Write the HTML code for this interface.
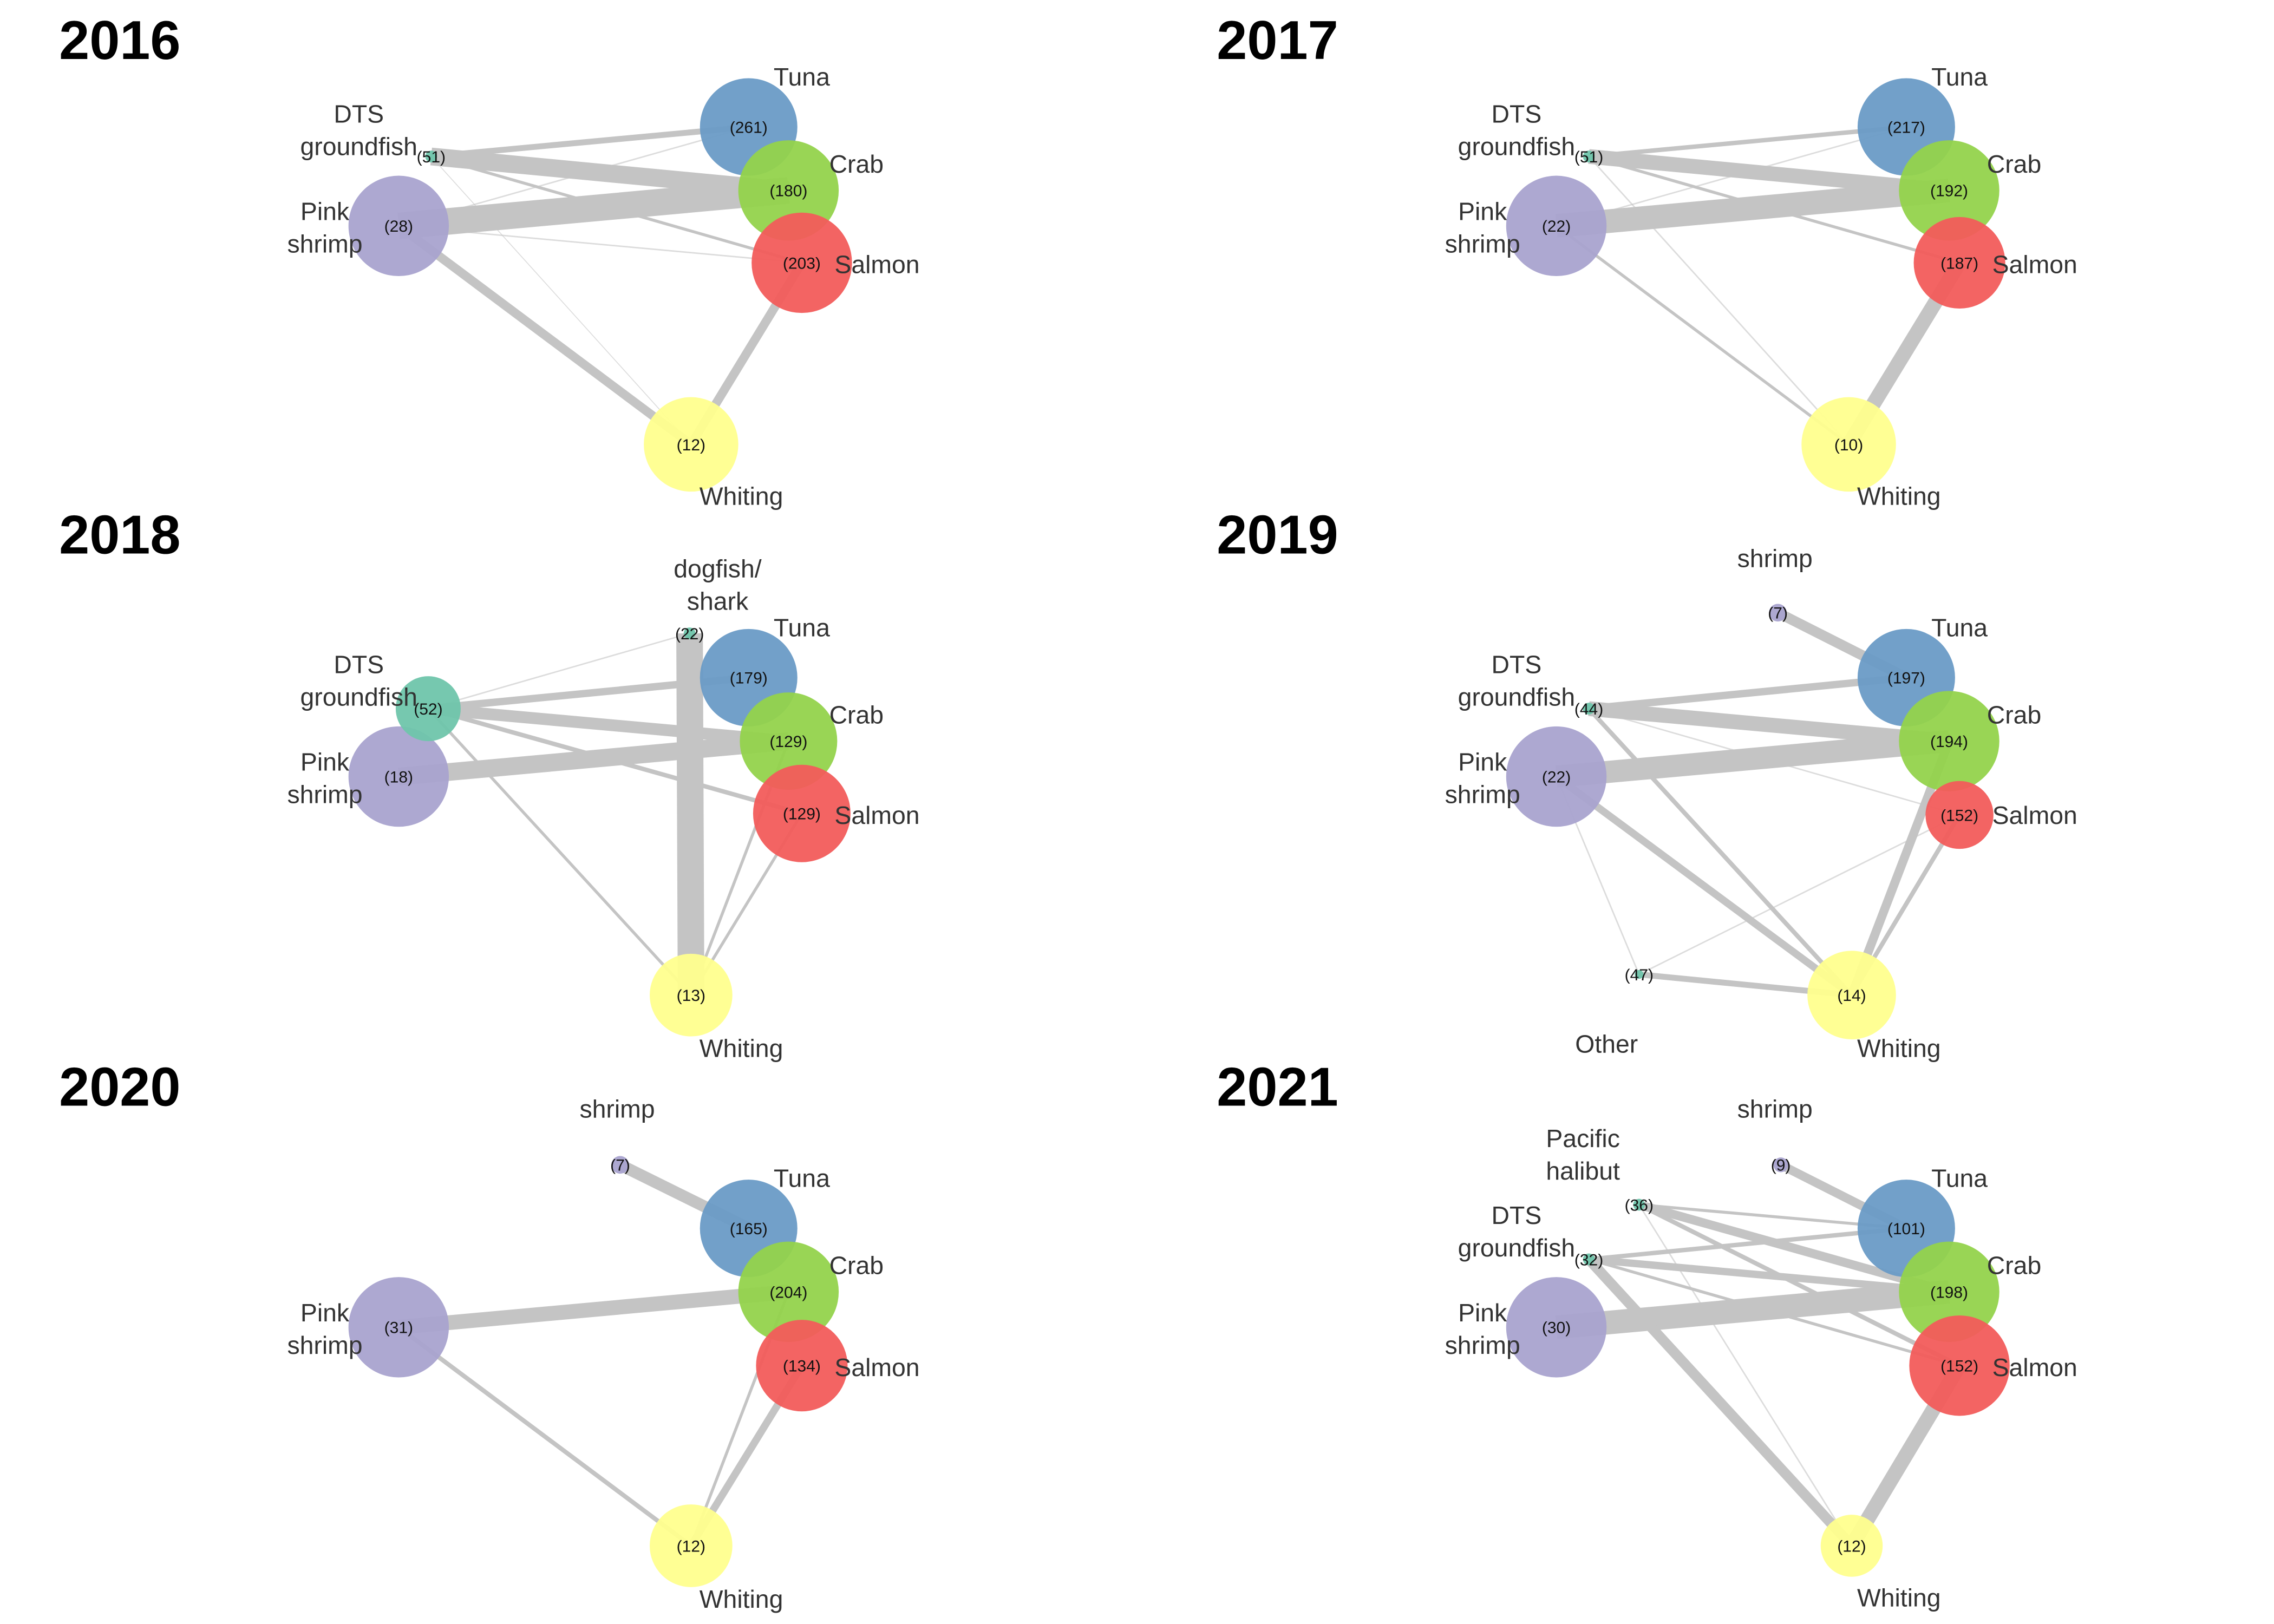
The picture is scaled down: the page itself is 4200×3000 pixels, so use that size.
<!DOCTYPE html>
<html><head><meta charset="utf-8"><style>
html,body{margin:0;padding:0;background:#fff}
svg{display:block}
text{font-family:"Liberation Sans",sans-serif}
</style></head><body>
<svg id="chart" width="4200" height="3000" viewBox="0 0 1540 1100" preserveAspectRatio="none" xmlns="http://www.w3.org/2000/svg"></svg>
<script>
const colors = {Tuna:"#6a9bc6",Crab:"#93d34c",Salmon:"#f25c5b",Pink:"#a9a3cf",Whiting:"#ffff8e",DTS:"#6fc5ab",dog:"#6fc5ab",shrimp:"#a9a3cf",Other:"#6fc5ab",hal:"#6fc5ab"};
const years = ["2016","2017","2018","2019","2020","2021"];
const titlePos = [[40,27],[824,27],[40,362],[824,362],[40,736],[824,736]];
// nodes: key, x, y, radius, count
const nodes2016 = [["Tuna",507,86,33,261],["Crab",534,129,34,180],["Salmon",543,178,34,203],["Pink",270,153,34,28],["Whiting",468,301,32,12],["DTS",292,106,4,51]];
const edges2016 = [["DTS","Crab",12],["Pink","Crab",18],["DTS","Tuna",4],["Pink","Whiting",6],["Salmon","Whiting",6],["DTS","Salmon",2],["Pink","Tuna",1],["Pink","Salmon",1],["DTS","Whiting",0.6]];
const nodes2017 = [["Tuna",1291,86,33,217],["Crab",1320,129,34,192],["Salmon",1327,178,31,187],["Pink",1054,153,34,22],["Whiting",1252,301,32,10],["DTS",1076,106,4,51]];
const edges2017 = [["DTS","Crab",10],["Pink","Crab",16],["DTS","Tuna",3],["Salmon","Whiting",10],["Pink","Whiting",2],["DTS","Salmon",2],["Pink","Tuna",1],["DTS","Whiting",1]];
const nodes2018 = [["Tuna",507,459,33,179],["Crab",534,502,33,129],["Salmon",543,551,33,129],["Pink",270,526,34,18],["Whiting",468,674,28,13],["DTS",290,480,22,52],["dog",467,429,4,22]];
const edges2018 = [["dog","Whiting",18],["DTS","Crab",8],["DTS","Tuna",5],["Pink","Crab",12],["DTS","Whiting",2],["DTS","Salmon",3],["Salmon","Whiting",2],["Crab","Whiting",2],["DTS","dog",1]];
const nodes2019 = [["Tuna",1291,459,33,197],["Crab",1320,502,34,194],["Salmon",1327,552,23,152],["Pink",1054,526,34,22],["Whiting",1254,674,30,14],["DTS",1076,480,4,44],["shrimp",1204,415,6,7],["Other",1110,660,3,47]];
const edges2019 = [["shrimp","Tuna",7],["DTS","Tuna",5],["DTS","Crab",10],["Pink","Crab",15],["Pink","Whiting",5],["DTS","Whiting",3],["Crab","Whiting",6],["Salmon","Whiting",3],["Other","Whiting",4],["Other","Salmon",1],["Other","Pink",1],["DTS","Salmon",1]];
const nodes2020 = [["Tuna",507,832,33,165],["Crab",534,875,34,204],["Salmon",543,925,31,134],["Pink",270,899,34,31],["Whiting",468,1047,28,12],["shrimp",420,789,6,7]];
const edges2020 = [["shrimp","Tuna",8],["Pink","Crab",10],["Pink","Whiting",3],["Salmon","Whiting",5],["Crab","Whiting",2]];
const nodes2021 = [["Tuna",1291,832,33,101],["Crab",1320,875,34,198],["Salmon",1327,925,34,152],["Pink",1054,899,34,30],["Whiting",1254,1047,21,12],["shrimp",1206,789,5,9],["hal",1110,816,4,36],["DTS",1076,853,4,32]];
const edges2021 = [["Pink","Crab",16],["hal","Crab",6],["DTS","Crab",5],["shrimp","Tuna",6],["DTS","Whiting",7],["Salmon","Whiting",10],["hal","Tuna",2],["DTS","Tuna",3],["hal","Salmon",3],["DTS","Salmon",2],["hal","Whiting",1]];
// labels: text lines, x, y (center-anchored)
const labels2016 = [[["Tuna"],543,58],[["Crab"],580,117],[["Salmon"],594,185],[["Whiting"],502,342],[["Pink","shrimp"],220,149],[["DTS","groundfish"],243,83]];
const labels2017 = [[["Tuna"],1327,58],[["Crab"],1364,117],[["Salmon"],1378,185],[["Whiting"],1286,342],[["Pink","shrimp"],1004,149],[["DTS","groundfish"],1027,83]];
const labels2018 = [[["Tuna"],543,431],[["Crab"],580,490],[["Salmon"],594,558],[["Whiting"],502,716],[["Pink","shrimp"],220,522],[["DTS","groundfish"],243,456],[["dogfish/","shark"],486,391]];
const labels2019 = [[["Tuna"],1327,431],[["Crab"],1364,490],[["Salmon"],1378,558],[["Whiting"],1286,716],[["Pink","shrimp"],1004,522],[["DTS","groundfish"],1027,456],[["shrimp"],1202,384],[["Other"],1088,713]];
const labels2020 = [[["Tuna"],543,804],[["Crab"],580,863],[["Salmon"],594,932],[["Whiting"],502,1089],[["Pink","shrimp"],220,895],[["shrimp"],418,757]];
const labels2021 = [[["Tuna"],1327,804],[["Crab"],1364,863],[["Salmon"],1378,932],[["Whiting"],1286,1088],[["Pink","shrimp"],1004,895],[["DTS","groundfish"],1027,829],[["shrimp"],1202,757],[["Pacific","halibut"],1072,777]];

const panels = [[nodes2016,edges2016,labels2016],[nodes2017,edges2017,labels2017],[nodes2018,edges2018,labels2018],[nodes2019,edges2019,labels2019],[nodes2020,edges2020,labels2020],[nodes2021,edges2021,labels2021]];
const NS="http://www.w3.org/2000/svg";
const svg=document.getElementById('chart');
function mk(tag,attrs,parent){const e=document.createElementNS(NS,tag);for(const k in attrs)e.setAttribute(k,attrs[k]);parent.appendChild(e);return e;}
panels.forEach((p,i)=>{
  const g=mk('g',{},svg);
  
  
  const t=mk('text',{x:titlePos[i][0],y:titlePos[i][1]+13,'font-size':37,'font-weight':'bold',fill:'#000'},g);
  t.textContent=years[i];
  
  
  const nm={};p[0].forEach(n=>nm[n[0]]=n);
  p[1].forEach(e=>{
    const a=nm[e[0]],b=nm[e[1]];
    const l=mk('line',{x1:a[1],y1:a[2],x2:b[1],y2:b[2],stroke:'#c4c4c4','stroke-width':e[2],'stroke-opacity':e[2]<1.5?0.6:1},g);
    
    
  });
  p[0].forEach(n=>{
    const c=mk('circle',{cx:n[1],cy:n[2],r:n[3],fill:colors[n[0]],'fill-opacity':0.95},g);
    
    
    const tx=mk('text',{x:n[1],y:n[2]+4,'font-size':11,'text-anchor':'middle',fill:'#111'},g);
    tx.textContent='('+n[4]+')';
    
    
  });
  p[2].forEach(L=>{
    L[0].forEach((s,k)=>{
      const tx=mk('text',{x:L[1],y:L[2]+k*22,'font-size':17,'text-anchor':'middle',fill:'#333'},g);
      tx.textContent=s;
      
      
    });
  });
});
</script>
</body></html>
